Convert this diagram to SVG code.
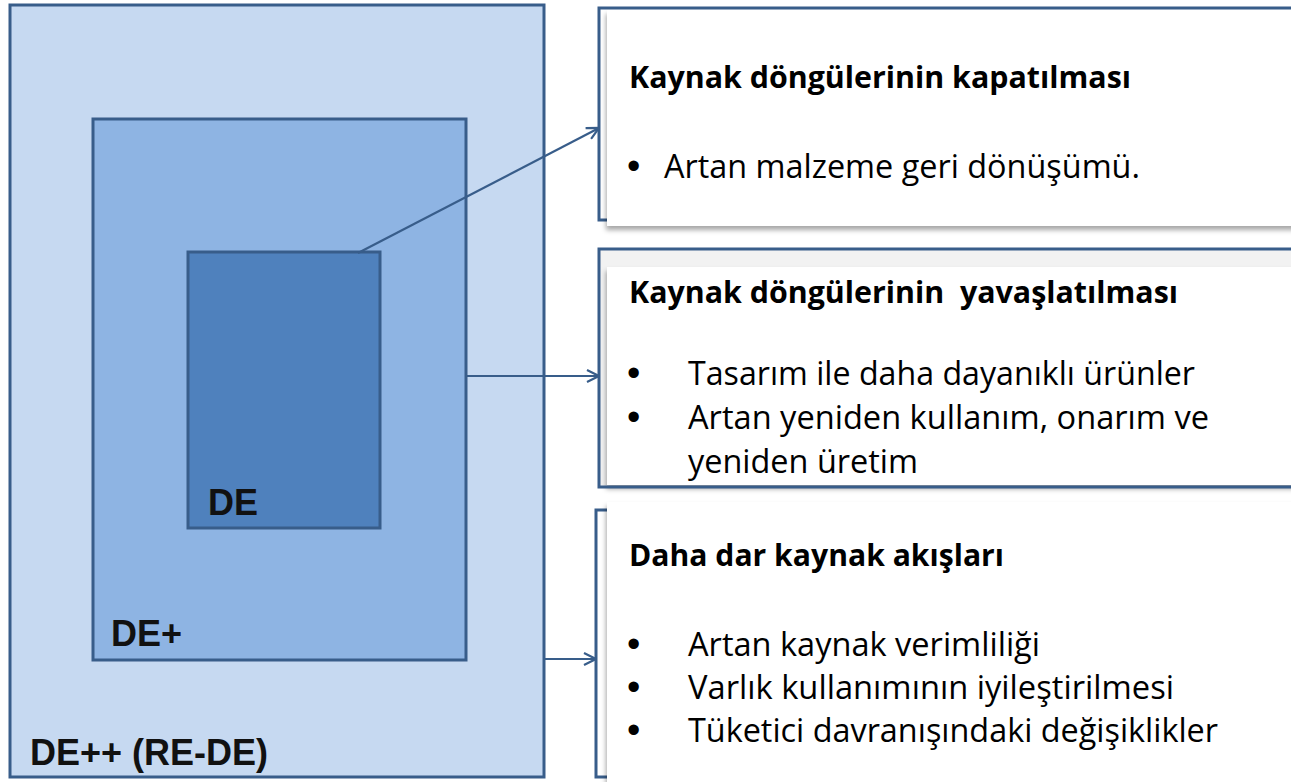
<svg xmlns="http://www.w3.org/2000/svg" width="1291" height="782" viewBox="0 0 1291 782">
<defs>
<style>
.lab{font-family:"Liberation Sans",Arial,sans-serif;font-weight:bold;font-size:36px;fill:#111}
.hd{font-family:"Open Sans","Liberation Sans",sans-serif;font-weight:bold;font-size:31px;fill:#000;white-space:pre}
.bd{font-family:"Open Sans","Liberation Sans",sans-serif;font-size:33px;fill:#000}
.bul{font-family:"Liberation Sans",sans-serif;font-size:38px;fill:#000}
.box{stroke:#385d8a;stroke-width:3}
.br{fill:none;stroke:#385d8a;stroke-width:3}
.card{fill:#fff;filter:url(#sh)}
.con{stroke:#385d8a;stroke-width:2.2;fill:none;marker-end:url(#ah)}
</style>
<filter id="sh" x="-5%" y="-10%" width="115%" height="125%">
<feDropShadow dx="-1" dy="4" stdDeviation="2.5" flood-color="#000" flood-opacity="0.35"/>
</filter>
<marker id="ah" viewBox="0 0 14 14" refX="13" refY="7" markerWidth="14" markerHeight="14" markerUnits="userSpaceOnUse" orient="auto">
<path d="M1,1 L13,7 L1,13" fill="none" stroke="#385d8a" stroke-width="2.2"/>
</marker>
</defs>
<rect width="1291" height="782" fill="#fff"/>

<g id="de-plus-plus">
<rect class="box" x="10" y="5" width="534" height="772" fill="#c6d9f1"/>
<text class="lab" x="30" y="765">DE++ (RE-DE)</text>
</g>
<g id="de-plus">
<rect class="box" x="93" y="119" width="373" height="541" fill="#8eb4e3"/>
<text class="lab" x="111" y="646">DE+</text>
</g>
<g id="de">
<rect class="box" x="188" y="252" width="192" height="276" fill="#4f81bd"/>
<text class="lab" x="208" y="515">DE</text>
</g>

<g id="box-closing">
<rect class="br" x="599" y="8" width="720" height="212"/>
<rect class="card" x="607" y="10" width="700" height="216"/>
<text class="hd" x="629" y="88" textLength="502" lengthAdjust="spacingAndGlyphs">Kaynak döngülerinin kapatılması</text>
<text class="bul" x="627" y="179">•</text>
<text class="bd" x="664" y="178" textLength="476" lengthAdjust="spacingAndGlyphs">Artan malzeme geri dönüşümü.</text>
</g>

<g id="box-slowing">
<rect x="599" y="249" width="720" height="238" fill="#f2f2f2"/>
<rect class="card" x="607" y="267" width="700" height="218"/>
<rect class="br" x="599" y="249" width="720" height="238"/>
<text class="hd" x="629" y="303" textLength="549" lengthAdjust="spacingAndGlyphs" xml:space="preserve">Kaynak döngülerinin  yavaşlatılması</text>
<text class="bul" x="627" y="386">•</text>
<text class="bd" x="688" y="385" textLength="507" lengthAdjust="spacingAndGlyphs">Tasarım ile daha dayanıklı ürünler</text>
<text class="bul" x="627" y="430">•</text>
<text class="bd" x="688" y="429" textLength="521" lengthAdjust="spacingAndGlyphs">Artan yeniden kullanım, onarım ve</text>
<text class="bd" x="688" y="473" textLength="230" lengthAdjust="spacingAndGlyphs">yeniden üretim</text>
</g>

<g id="box-narrowing">
<rect class="br" x="596" y="510" width="720" height="267"/>
<rect class="card" x="607" y="502" width="700" height="300"/>
<text class="hd" x="629" y="566" textLength="375" lengthAdjust="spacingAndGlyphs">Daha dar kaynak akışları</text>
<text class="bul" x="627" y="657">•</text>
<text class="bd" x="688" y="656" textLength="352" lengthAdjust="spacingAndGlyphs">Artan kaynak verimliliği</text>
<text class="bul" x="627" y="700">•</text>
<text class="bd" x="688" y="699" textLength="486" lengthAdjust="spacingAndGlyphs">Varlık kullanımının iyileştirilmesi</text>
<text class="bul" x="627" y="743">•</text>
<text class="bd" x="688" y="742" textLength="530" lengthAdjust="spacingAndGlyphs">Tüketici davranışındaki değişiklikler</text>
</g>

<g id="connectors">
<line class="con" x1="358" y1="253" x2="599" y2="128"/>
<line class="con" x1="467" y1="376" x2="599" y2="376"/>
<line class="con" x1="545" y1="659" x2="596" y2="659"/>
</g>
</svg>
